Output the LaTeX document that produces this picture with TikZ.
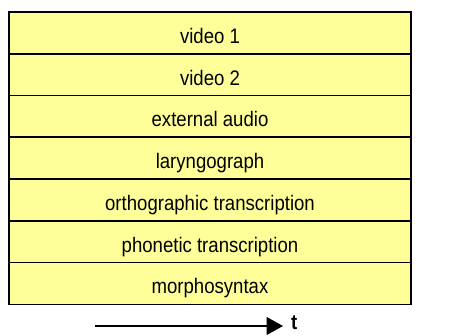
\documentclass[tikz,border=0pt]{standalone}
\usepackage{fontspec}
\setmainfont{Liberation Sans}
\newfontfamily\narrowsans[FakeStretch=0.885]{Liberation Sans}
\usetikzlibrary{arrows.meta}
\definecolor{rowyellow}{HTML}{FFFF99}
\tikzset{
  rowbox/.style={draw=black, line width=1.6pt, fill=rowyellow,
    minimum width=402pt, minimum height=41.76pt, inner sep=0pt,
    text height=21pt, text depth=0pt, font=\narrowsans\fontsize{21}{24}\selectfont},
  timearrow/.style={line width=1.3pt, -{Triangle[length=16.5pt,width=18pt]}},
  tlabel/.style={inner sep=0pt, anchor=base west, font=\narrowsans\fontsize{21}{24}\selectfont\bfseries}
}
\begin{document}
\begin{tikzpicture}[x=1pt,y=-1pt]
\useasboundingbox (0,0) rectangle (468,336);
\node[rowbox] (r1) at (210,32.88) {video 1};
\node[rowbox] (r2) at (210,74.64) {video 2};
\node[rowbox] (r3) at (210,116.40) {external audio};
\node[rowbox] (r4) at (210,158.16) {laryngograph};
\node[rowbox] (r5) at (210,199.92) {orthographic transcription};
\node[rowbox] (r6) at (210,241.68) {phonetic transcription};
\node[rowbox] (r7) at (210,283.44) {morphosyntax};
\coordinate (t0) at (94.5,326);
\coordinate (t1) at (283,326);
\draw[timearrow] (t0) -- (t1);
\node[tlabel] (t) at (291,329) {t};
\end{tikzpicture}
\end{document}
